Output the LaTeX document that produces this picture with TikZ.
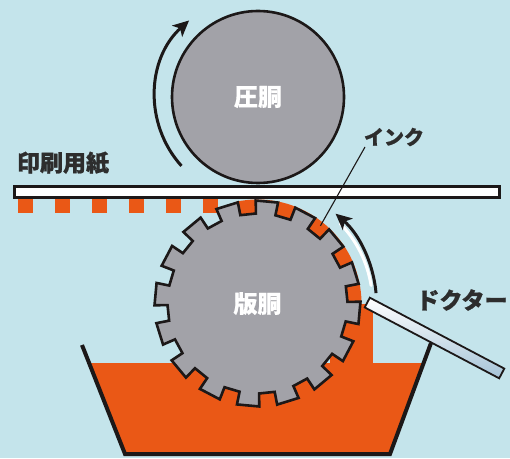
\documentclass[tikz,border=0pt]{standalone}
\usepackage{fontspec}
\usepackage{tikz}
\usetikzlibrary{arrows.meta}
\newfontfamily\jpfont{Noto Sans CJK JP}[FakeBold=1.0]
\newfontfamily\jplightfont{Noto Sans CJK JP}[FakeBold=0.5]
\definecolor{bg_blue}{RGB}{196,228,235}
\definecolor{cyl_gray}{RGB}{162,162,168}
\definecolor{ink_orange}{RGB}{234,88,22}
\definecolor{edge_dark}{RGB}{28,24,24}
\definecolor{blade_steel}{RGB}{165,195,215}
\definecolor{label_gray}{RGB}{45,45,45}
\tikzset{
    cyl_body/.style={fill=cyl_gray, draw=edge_dark, line width=2.6pt},
    tub_wall/.style={draw=edge_dark, line width=4pt},
    paper_sheet/.style={fill=white, draw=edge_dark, line width=3pt},
    blade_body/.style={
        rectangle, draw=edge_dark, line width=1.8pt,
        top color=white, bottom color=blade_steel,
        minimum width=152pt, minimum height=11pt, inner sep=0pt
    },
    spin_arrow/.style={draw=edge_dark, line width=3pt, -{Stealth[length=16pt, width=15pt, inset=4pt]}},
    lbl_dark/.style={font=\jpfont\bfseries\fontsize{23}{27}\selectfont, text=label_gray, inner sep=0pt},
    lbl_white/.style={font=\jplightfont\bfseries\fontsize{24}{28}\selectfont, text=white, inner sep=0pt}
}
\begin{document}
\begin{tikzpicture}[x=1pt, y=1pt]
\useasboundingbox (0,0) rectangle (510,458);
\fill[bg_blue] (0,0) rectangle (510,458);

\coordinate (impression) at (258,361);
\coordinate (plate) at (257.5,154.5);

% ink bath and tub
\fill[ink_orange] (89,95) -- (125,4) -- (390,4) -- (423.5,95) -- cycle;
\fill[ink_orange] (330,95) rectangle (373,154);
\draw[tub_wall] (82,113) -- (125,4) -- (390,4) -- (431,115);

% printed dots under the sheet
\foreach \x in {25,62,...,210}
    \fill[ink_orange] (\x-7.5,245) rectangle (\x+7.5,258.5);

% filled cells
\fill[ink_orange, shift={(plate)}] (-30:85) arc[start angle=-30, end angle=102, radius=85]
    -- (102:104) arc[start angle=102, end angle=-30, radius=104] -- cycle;

% plate cylinder
\draw[cyl_body, shift={(plate)}] (1:103)
    \foreach \k [evaluate=\k as \n using 6+22.5*\k] in {0,...,15} {
        -- ({\n-5}:103) -- ({\n-5}:90) -- ({\n+5}:90) -- ({\n+5}:103)
    } -- cycle;

% impression cylinder
\draw[cyl_body] (impression) circle[radius=86];

% sheet
\draw[paper_sheet] (14.5,260.5) rectangle (499.5,271.5);

% doctor blade
\node[blade_body, rotate=-27.8] (blade) at (434.5,120) {};

% rotation
\draw[spin_arrow] (impression) ++(222:103) arc[start angle=222, end angle=132, radius=103];
\draw[white, line width=3pt, line cap=round] (plate) ++(9:115) arc[start angle=9, end angle=44, radius=115];
\draw[spin_arrow] (plate) ++(5:119) arc[start angle=5, end angle=49, radius=119];

% labels
\node[lbl_dark] (paper_lbl) at (63,295) {印刷用紙};
\node[lbl_dark, font=\jpfont\bfseries\fontsize{20}{24}\selectfont] (ink_lbl) at (394,321) {インク};
\node[lbl_dark] (blade_lbl) at (462,158) {ドクター};
\node[lbl_white] (imp_lbl) at (impression) {圧胴};
\node[lbl_white] (plate_lbl) at (plate) {版胴};

\coordinate (ink_tail) at (365,311);
\path (plate) ++(51:100) coordinate (ink_cell);
\draw[edge_dark, line width=1.1pt] (ink_tail) -- (ink_cell);
\end{tikzpicture}
\end{document}
